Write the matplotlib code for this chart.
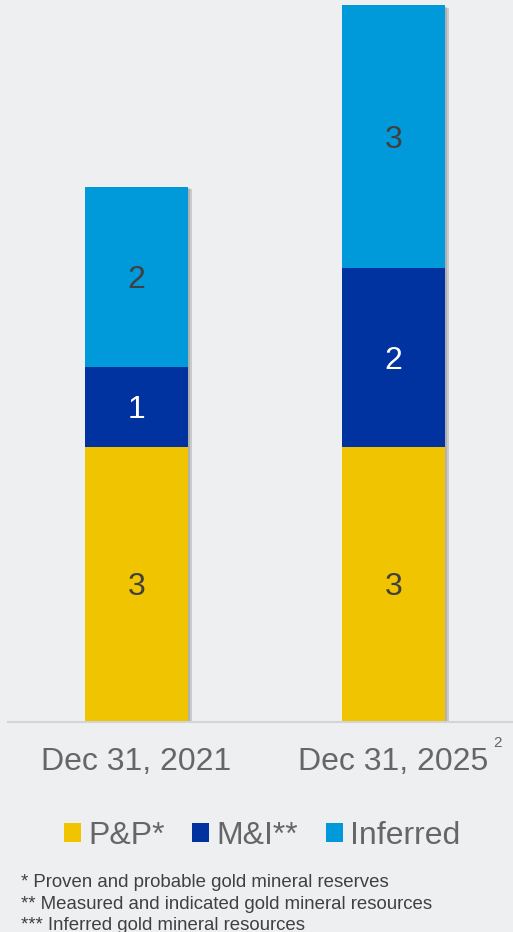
import matplotlib
matplotlib.use("Agg")
import matplotlib.pyplot as plt
from matplotlib.patches import Patch
import matplotlib.patheffects as pe
from matplotlib.transforms import offset_copy

plt.rcParams['font.family'] = ['Liberation Sans', 'DejaVu Sans']

categories = ["Dec 31, 2021", "Dec 31, 2025"]
series_names = ["P&P*", "M&I**", "Inferred"]
pp = [3.0, 3.0]
mi = [0.87, 1.95]
inferred = [1.97, 2.87]
footnotes = ["* Proven and probable gold mineral reserves",
             "** Measured and indicated gold mineral resources",
             "*** Inferred gold mineral resources"]

colors = ["#F0C400", "#0033A0", "#009ADA"]
label_colors = ["#404040", "#FFFFFF", "#404040"]
bg = "#EEEFF1"

W, H = 513, 932
fig = plt.figure(figsize=(W / 100, H / 100), dpi=100, facecolor=bg)
ax = fig.add_axes([8 / W, 210 / H, 1 - 8 / W, 1 - 210 / H])
ax.set_facecolor(bg)

x = [0, 1]
totals = [a + b + c for a, b, c in zip(pp, mi, inferred)]
# single shadow behind each whole stack
shadow_bars = ax.bar(x, totals, width=0.40, color=bg, zorder=1)
for b in shadow_bars:
    b.set_path_effects([pe.SimplePatchShadow(offset=(3, -2), shadow_rgbFace="#6A6A6A", alpha=0.28),
                        pe.SimplePatchShadow(offset=(1.5, -1), shadow_rgbFace="#6A6A6A", alpha=0.25)])

label_tr = offset_copy(ax.transData, fig=fig, x=0, y=-3, units="dots")
bottoms = [0.0, 0.0]
for vals, c, lc, name in zip([pp, mi, inferred], colors, label_colors, series_names):
    ax.bar(x, vals, bottom=bottoms, width=0.40, color=c, label=name, zorder=2)
    for xi, v, b0 in zip(x, vals, bottoms):
        ax.text(xi, b0 + v / 2, f"{v:.0f}", ha="center", va="center",
                fontsize=23, color=lc, zorder=3, transform=label_tr)
    bottoms = [b0 + v for b0, v in zip(bottoms, vals)]

ax.set_xlim(-0.5, 1.465)
ax.set_ylim(0, 7.876)
for s in ["top", "right", "left"]:
    ax.spines[s].set_visible(False)
ax.spines["bottom"].set_color("#D3D4D6")
ax.spines["bottom"].set_linewidth(1.5)
ax.spines["bottom"].set_zorder(4)
ax.set_yticks([])
ax.set_xticks(x)
ax.set_xticklabels(categories, fontsize=23, color="#666666")
ax.tick_params(axis="x", length=0, pad=18)

fig.text(498 / W, 1 - 743 / H, "2", fontsize=11, color="#666666", ha="center", va="center")

handles = [Patch(facecolor=c, edgecolor="none") for c in colors]
fig.legend(handles, series_names, loc="center", bbox_to_anchor=(0.511, 1 - 836 / H),
           ncol=3, frameon=False, fontsize=23, labelcolor="#666666",
           handlelength=0.53, handleheight=0.53, handletextpad=0.22,
           columnspacing=0.87, borderpad=0, borderaxespad=0)

for i, (t, yb) in enumerate(zip(footnotes, [887, 909, 930])):
    fig.text(21 / W, 1 - yb / H, t, fontsize=13.4, color="#404040", ha="left", va="baseline")

fig.savefig("out.png", dpi=100, facecolor=bg)
